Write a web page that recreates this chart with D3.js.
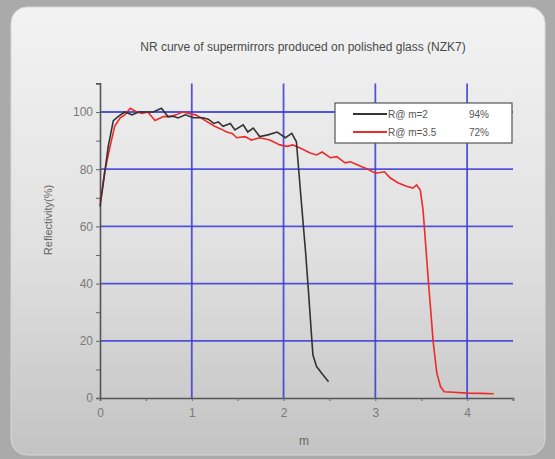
<!DOCTYPE html>
<html>
<head>
<meta charset="utf-8">
<script src="https://cdn.jsdelivr.net/npm/d3@7"></script>
<style>
  body { margin: 0; background: #a9a9a9; }
  svg { display: block; font-family: "Liberation Sans", Arial, sans-serif; }
</style>
</head>
<body>
<script>
// reflectivity curves: [m, R%]
var seriesM2 = [
  [0, 67], [0.04, 76], [0.09, 88], [0.145, 97], [0.2, 98.5], [0.27, 100], [0.35, 99],
  [0.42, 100], [0.5, 100], [0.58, 100], [0.67, 101.3], [0.74, 98.4], [0.8, 98.5],
  [0.85, 97.9], [0.93, 99], [1.02, 98], [1.12, 98], [1.18, 97.5], [1.24, 96],
  [1.29, 96.5], [1.34, 95], [1.42, 96], [1.47, 93.7], [1.56, 95.5], [1.61, 93],
  [1.67, 94.4], [1.74, 91.4], [1.83, 92], [1.93, 93], [2.02, 91], [2.09, 92.5],
  [2.14, 89.6], [2.19, 70], [2.24, 51], [2.27, 38], [2.3, 24], [2.32, 15],
  [2.36, 11], [2.42, 8.5], [2.49, 5.7]
];
var seriesM35 = [
  [0, 69], [0.02, 72], [0.05, 79], [0.11, 88], [0.16, 95], [0.22, 98], [0.27, 99],
  [0.33, 101.3], [0.4, 100], [0.46, 99.5], [0.52, 100], [0.6, 97], [0.69, 98.4],
  [0.76, 98.4], [0.83, 99], [0.9, 100], [0.97, 99.5], [1.04, 99], [1.1, 98],
  [1.16, 96.7], [1.25, 95], [1.32, 94], [1.38, 93], [1.44, 92.5], [1.49, 91],
  [1.58, 91.4], [1.65, 90.2], [1.74, 91], [1.85, 90.2], [1.96, 88.5], [2.04, 88],
  [2.1, 88.5], [2.18, 87.4], [2.29, 85.7], [2.36, 85], [2.42, 86], [2.51, 84],
  [2.58, 84.4], [2.67, 82.2], [2.73, 82.6], [2.84, 81], [2.92, 80], [3.0, 78.6],
  [3.1, 79.1], [3.16, 77], [3.25, 75.2], [3.34, 74], [3.41, 73.4], [3.45, 74.5],
  [3.49, 72.7], [3.52, 65.7], [3.55, 53], [3.58, 40], [3.61, 28], [3.63, 19.7],
  [3.67, 8.7], [3.71, 4], [3.75, 2.2], [3.85, 2], [4.0, 1.7], [4.15, 1.6], [4.29, 1.5]
];
var xTicks = [0, 1, 2, 3, 4];
var yTicks = [0, 20, 40, 60, 80, 100];
var legendNames = ["R@ m=2", "R@ m=3.5"];
var legendValues = ["94%", "72%"];
var colors = ["#333333", "#ee2a2a"];

var W = 555, H = 459;
var svg = d3.select("body").append("svg")
    .attr("width", W)
    .attr("height", H);

var defs = svg.append("defs");
var grad = defs.append("linearGradient")
    .attr("id", "panelGrad")
    .attr("x1", 0).attr("y1", 0).attr("x2", 0).attr("y2", 1);
grad.append("stop").attr("offset", "0%").attr("stop-color", "#f3f3f3");
grad.append("stop").attr("offset", "55%").attr("stop-color", "#e0e0e0");
grad.append("stop").attr("offset", "100%").attr("stop-color", "#c3c3c3");

// outer frame + panel
svg.append("rect").attr("width", W).attr("height", H).attr("fill", "#aaaaaa");
svg.append("rect")
    .attr("x", 11).attr("y", 7)
    .attr("width", 534).attr("height", 448)
    .attr("rx", 16)
    .attr("fill", "url(#panelGrad)")
    .attr("stroke", "#d8d8d8");

var x = d3.scaleLinear().domain([0, 4.5]).range([100, 513]);
var y = d3.scaleLinear().domain([0, 110]).range([398, 83.4]);

var g = svg.append("g");

// grid
g.selectAll(".vgrid")
    .data(xTicks.slice(1))
  .enter().append("line")
    .attr("x1", function(d) { return x(d); })
    .attr("x2", function(d) { return x(d); })
    .attr("y1", y(110)).attr("y2", y(0))
    .attr("stroke", "#3a3ad8").attr("stroke-width", 1.8).attr("opacity", 0.85);
g.selectAll(".hgrid")
    .data(yTicks.slice(1))
  .enter().append("line")
    .attr("x1", x(0)).attr("x2", x(4.5))
    .attr("y1", function(d) { return y(d); })
    .attr("y2", function(d) { return y(d); })
    .attr("stroke", "#3a3ad8").attr("stroke-width", 1.8).attr("opacity", 0.85);

// axes
var xAxis = d3.axisBottom(x)
    .tickValues(d3.range(0, 4.51, 0.5))
    .tickSize(3)
    .tickFormat(function(d) { return d % 1 === 0 ? d : ""; });
var yAxis = d3.axisLeft(y)
    .tickValues(d3.range(0, 110, 10))
    .tickSize(4)
    .tickFormat(function(d) { return d % 20 === 0 ? d : ""; });

var gx = g.append("g")
    .attr("transform", "translate(0," + y(0) + ")")
    .call(xAxis);
var gy = g.append("g")
    .attr("transform", "translate(" + x(0) + ",0)")
    .call(yAxis);

[gx, gy].forEach(function(a) {
  a.select(".domain").attr("stroke", "#555").attr("stroke-width", 1.6);
  a.selectAll(".tick line").attr("stroke", "#666");
  a.selectAll(".tick text")
      .attr("fill", "#7a7a7a")
      .style("font-size", "12px")
      .style("font-family", "Liberation Sans, Arial, sans-serif");
});
gx.selectAll(".tick text").attr("dy", "1.1em");

// curves
var line = d3.line()
    .x(function(d) { return x(d[0]); })
    .y(function(d) { return y(d[1]); });

g.append("path")
    .datum(seriesM35)
    .attr("d", line)
    .attr("fill", "none")
    .attr("stroke", colors[1])
    .attr("stroke-width", 1.6);
g.append("path")
    .datum(seriesM2)
    .attr("d", line)
    .attr("fill", "none")
    .attr("stroke", colors[0])
    .attr("stroke-width", 1.6);

// legend
var lg = svg.append("g").attr("transform", "translate(335,103)");
lg.append("rect")
    .attr("width", 177).attr("height", 40)
    .attr("fill", "#ffffff").attr("stroke", "#555").attr("stroke-width", 1.2);
legendNames.forEach(function(name, i) {
  var yy = 11 + i * 18;
  lg.append("line")
      .attr("x1", 18).attr("x2", 52)
      .attr("y1", yy).attr("y2", yy)
      .attr("stroke", colors[i]).attr("stroke-width", 2);
  lg.append("text")
      .attr("x", 53).attr("y", yy + 3.5)
      .attr("fill", "#555").style("font-size", "10px")
      .text(name);
  lg.append("text")
      .attr("x", 134).attr("y", yy + 3.5)
      .attr("fill", "#555").style("font-size", "10px")
      .text(legendValues[i]);
});

// titles
svg.append("text")
    .attr("x", 303).attr("y", 51)
    .attr("text-anchor", "middle")
    .attr("fill", "#4a4a4a")
    .style("font-size", "12px")
    .text("NR curve of supermirrors produced on polished glass (NZK7)");

svg.append("text")
    .attr("transform", "translate(52,220)rotate(-90)")
    .attr("text-anchor", "middle")
    .attr("fill", "#666")
    .style("font-size", "11px")
    .text("Reflectivity(%)");

svg.append("text")
    .attr("x", 304).attr("y", 445)
    .attr("text-anchor", "middle")
    .attr("fill", "#666")
    .style("font-size", "12px")
    .text("m");
</script>
</body>
</html>
